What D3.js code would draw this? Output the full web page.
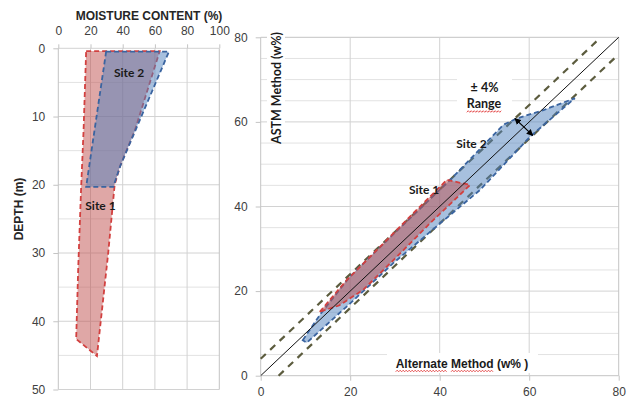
<!DOCTYPE html>
<html>
<head>
<meta charset="utf-8">
<script src="https://cdn.jsdelivr.net/npm/d3@7"></script>
<style>
  body { margin: 0; background: #fff; }
  svg { display: block; }
</style>
</head>
<body>
<svg id="chart" width="632" height="400"></svg>
<script>
// ---- axis ticks ----
const moistureTicks = [0, 20, 40, 60, 80, 100];
const depthTicks = [0, 10, 20, 30, 40, 50];
const depthGrid = [0, 5, 10, 15, 20, 25, 30, 35, 40, 45, 50];
const methodTicks = [0, 20, 40, 60, 80];
const methodGrid = [0, 5, 10, 15, 20, 25, 30, 35, 40, 45, 50, 55, 60, 65, 70, 75, 80];

// ---- moisture profile envelopes: [moisture %, depth m] ----
const site1Profile = [
  [17.3, 0.4], [63, 0.4], [47.6, 12], [38.3, 17.3], [35, 20], [31, 30], [24, 45.1],
  [11.1, 42.6], [12.4, 32], [14.2, 20.3], [15.7, 12]
];
const site2Profile = [
  [29.7, 0.5], [68.7, 0.5], [38.4, 17.3], [34.2, 20.3], [17.3, 20.3]
];

// ---- method comparison envelopes: [alternate w%, ASTM w%] ----
const site1Compare = [
  [13.2, 15.1], [19.2, 22.6], [26.7, 30.5], [34.1, 38.4], [41.6, 46.3], [46.8, 45.1],
  [37.8, 36], [30.4, 28.1], [22.9, 20.3], [17.5, 16.6]
];
const site2Compare = [
  [9.4, 8.4], [13.5, 14.8], [20, 23.5], [30, 33.8], [43, 47], [54.2, 59.3], [57.2, 60.8],
  [63.2, 62.8], [70.2, 65.6], [60.2, 56.5], [49, 43.9], [40.1, 36], [29.6, 26.6],
  [20, 17.1], [10.3, 7.8]
];

// tolerance band around the 1:1 line (w%)
const rangeBand = 4;
const methodMax = 80;
const arrowAt = 58.8;

// ---- styling ----
const RED = "#C0504D", RED_LINE = "#d2403f";
const BLUE = "#4F81BD", BLUE_LINE = "#3a64a0";
const OLIVE = "#5c5c3e";
const GRID_MAJOR = "#d2d2d2", GRID_MINOR = "#e2e2e2", FRAME = "#c4c4c4";
const TICK_TEXT = "#404040";

const svg = d3.select("#chart");

// ================= left panel: moisture vs depth =================
const xM = d3.scaleLinear([0, 100], [58.3, 219.3]);
const yD = d3.scaleLinear([0, 50], [48.3, 389.5]);
const left = svg.append("g");

left.selectAll("line.hgrid").data(depthGrid).join("line")
  .attr("x1", xM(0)).attr("x2", xM(100))
  .attr("y1", d => yD(d)).attr("y2", d => yD(d))
  .attr("stroke", d => d % 10 === 0 ? GRID_MAJOR : GRID_MINOR).attr("stroke-width", 1);
left.selectAll("line.vgrid").data(moistureTicks).join("line")
  .attr("x1", d => xM(d)).attr("x2", d => xM(d))
  .attr("y1", yD(0)).attr("y2", yD(50))
  .attr("stroke", d => d === 0 || d === 100 ? FRAME : GRID_MAJOR).attr("stroke-width", 1);

const profileLine = d3.line().x(d => xM(d[0])).y(d => yD(d[1]));
left.append("path").attr("d", profileLine(site1Profile) + "Z")
  .attr("fill", RED).attr("fill-opacity", 0.5)
  .attr("stroke", RED_LINE).attr("stroke-width", 1.8).attr("stroke-dasharray", "5,3");
left.append("path").attr("d", profileLine(site2Profile) + "Z")
  .attr("fill", BLUE).attr("fill-opacity", 0.5)
  .attr("stroke", BLUE_LINE).attr("stroke-width", 1.8).attr("stroke-dasharray", "5,3");

const topAxis = left.append("g").attr("transform", `translate(0,${yD(0)})`)
  .call(d3.axisTop(xM).tickValues(moistureTicks).tickSize(4).tickPadding(9));
const leftAxis = left.append("g").attr("transform", `translate(${xM(0)},0)`)
  .call(d3.axisLeft(yD).tickValues(depthTicks).tickSize(5).tickPadding(8));

left.append("text").text("MOISTURE CONTENT (%)")
  .attr("x", 149).attr("y", 20).attr("text-anchor", "middle")
  .attr("font-family", "Liberation Sans, Arial, sans-serif").attr("font-weight", "bold")
  .attr("font-size", 12).attr("fill", "#262626");
left.append("text").text("DEPTH (m)")
  .attr("transform", "translate(22.5,209) rotate(-90)").attr("text-anchor", "middle")
  .attr("font-family", "Liberation Sans, Arial, sans-serif").attr("font-weight", "bold")
  .attr("font-size", 12).attr("fill", "#262626");

const siteFont = "Lato, 'Open Sans', sans-serif";
left.append("text").text("Site 2").attr("x", xM(44)).attr("y", yD(4.2))
  .attr("text-anchor", "middle").attr("font-family", siteFont).attr("font-weight", "bold")
  .attr("font-size", 12).attr("fill", "#1a1a1a");
left.append("text").text("Site 1").attr("x", xM(26.2)).attr("y", yD(23.7))
  .attr("text-anchor", "middle").attr("font-family", siteFont).attr("font-weight", "bold")
  .attr("font-size", 12).attr("fill", "#1a1a1a");

// ================= right panel: ASTM vs alternate method =================
const xA = d3.scaleLinear([0, methodMax], [260.7, 618.7]);
const yA = d3.scaleLinear([0, methodMax], [375.7, 37.3]);
const right = svg.append("g");

right.selectAll("line.hgrid").data(methodGrid).join("line")
  .attr("x1", xA(0)).attr("x2", xA(methodMax))
  .attr("y1", d => yA(d)).attr("y2", d => yA(d))
  .attr("stroke", d => (d === 0 || d === methodMax) ? FRAME : (d % 20 === 0 ? GRID_MAJOR : GRID_MINOR))
  .attr("stroke-width", 1);
right.selectAll("line.vgrid").data(methodTicks).join("line")
  .attr("x1", d => xA(d)).attr("x2", d => xA(d))
  .attr("y1", yA(0)).attr("y2", yA(methodMax))
  .attr("stroke", d => (d === 0 || d === methodMax) ? FRAME : GRID_MAJOR).attr("stroke-width", 1);

const cmpLine = d3.line().x(d => xA(d[0])).y(d => yA(d[1]));

// tolerance lines and 1:1 line
right.append("path").attr("d", cmpLine([[0, rangeBand], [methodMax - rangeBand, methodMax]]))
  .attr("stroke", OLIVE).attr("stroke-width", 2.2).attr("stroke-dasharray", "7,6").attr("fill", "none");
right.append("path").attr("d", cmpLine([[rangeBand, 0], [methodMax, methodMax - rangeBand]]))
  .attr("stroke", OLIVE).attr("stroke-width", 2.2).attr("stroke-dasharray", "7,6").attr("fill", "none");

right.append("path").attr("d", cmpLine(site2Compare) + "Z")
  .attr("fill", BLUE).attr("fill-opacity", 0.5)
  .attr("stroke", BLUE_LINE).attr("stroke-width", 1.8).attr("stroke-dasharray", "5,3");
right.append("path").attr("d", cmpLine(site1Compare) + "Z")
  .attr("fill", RED).attr("fill-opacity", 0.5)
  .attr("stroke", RED_LINE).attr("stroke-width", 1.8).attr("stroke-dasharray", "5,3");

right.append("path").attr("d", cmpLine([[0, 0], [methodMax, methodMax]]))
  .attr("stroke", "#111").attr("stroke-width", 1).attr("fill", "none");

// double-headed arrow across the tolerance band
const defs = svg.append("defs");
["arrowStart", "arrowEnd"].forEach((id, i) => {
  defs.append("marker").attr("id", id).attr("viewBox", "0 0 10 10")
    .attr("refX", i === 0 ? 1 : 9).attr("refY", 5)
    .attr("markerWidth", 6).attr("markerHeight", 6).attr("orient", "auto")
    .append("path").attr("d", i === 0 ? "M10,0 L0,5 L10,10 Z" : "M0,0 L10,5 L0,10 Z").attr("fill", "#000");
});
right.append("path")
  .attr("d", cmpLine([[arrowAt - rangeBand / 2, arrowAt + rangeBand / 2], [arrowAt + rangeBand / 2, arrowAt - rangeBand / 2]]))
  .attr("stroke", "#000").attr("stroke-width", 1.1)
  .attr("marker-start", "url(#arrowStart)").attr("marker-end", "url(#arrowEnd)");

const bottomAxis = right.append("g").attr("transform", `translate(0,${yA(0)})`)
  .call(d3.axisBottom(xA).tickValues(methodTicks).tickSize(5).tickPadding(7));
const rightAxis = right.append("g").attr("transform", `translate(${xA(0)},0)`)
  .call(d3.axisLeft(yA).tickValues(methodTicks).tickSize(5).tickPadding(8));

[topAxis, leftAxis, bottomAxis, rightAxis].forEach(ax => {
  ax.select(".domain").remove();
  ax.selectAll(".tick line").attr("stroke", FRAME);
  ax.selectAll(".tick text").attr("font-family", "Liberation Sans, Arial, sans-serif")
    .attr("font-size", 12).attr("fill", TICK_TEXT);
});

// red wavy underline as seen under unrecognised words
function squiggle(g, x0, x1, y) {
  const pts = [];
  for (let x = x0, k = 0; x <= x1; x += 1.5, k++) pts.push([x, y + (k % 2 ? -0.8 : 0.8)]);
  g.append("path").attr("d", d3.line()(pts)).attr("stroke", "#e03030")
    .attr("stroke-width", 0.8).attr("fill", "none");
}

// axis title boxes
const astm = right.append("g");
astm.append("rect").attr("x", 267).attr("y", 36).attr("width", 18).attr("height", 104).attr("fill", "#fff");
astm.append("text").text("ASTM Method (w%)")
  .attr("transform", "translate(280.5,88) rotate(-90)").attr("text-anchor", "middle")
  .attr("font-family", siteFont).attr("font-weight", "bold").attr("font-size", 12.5).attr("fill", "#1a1a1a");

const alt = right.append("g");
alt.append("rect").attr("x", 387).attr("y", 353).attr("width", 151).attr("height", 20).attr("fill", "#fff");
const altText = alt.append("text").text("Alternate Method (w% )")
  .attr("x", 462).attr("y", 367.5).attr("text-anchor", "middle")
  .attr("font-family", "Liberation Sans, Arial, sans-serif").attr("font-weight", "bold")
  .attr("font-size", 12).attr("fill", "#1a1a1a");
{
  const node = altText.node();
  const total = node.getComputedTextLength();
  const start = 462 - total / 2;
  const w1 = node.getSubStringLength(0, 9);
  const s2 = node.getSubStringLength(0, 10);
  const w2 = node.getSubStringLength(10, 6);
  squiggle(alt, start, start + w1, 371);
  squiggle(alt, start + s2, start + s2 + w2, 371);
}

const band = right.append("g");
band.append("rect").attr("x", 457).attr("y", 77).attr("width", 55).attr("height", 36).attr("fill", "#fff");
band.append("text").text("± " + rangeBand + "%").attr("x", 484.5).attr("y", 92)
  .attr("text-anchor", "middle").attr("font-family", siteFont).attr("font-weight", "bold")
  .attr("font-size", 12.5).attr("fill", "#1a1a1a");
const rangeText = band.append("text").text("Range").attr("x", 484).attr("y", 108)
  .attr("text-anchor", "middle").attr("font-family", siteFont).attr("font-weight", "bold")
  .attr("font-size", 12.5).attr("fill", "#1a1a1a");
{
  const w = rangeText.node().getComputedTextLength();
  squiggle(band, 484 - w / 2, 484 + w / 2, 111.5);
}

right.append("text").text("Site 2").attr("x", xA(47.1)).attr("y", yA(53.8))
  .attr("text-anchor", "middle").attr("font-family", siteFont).attr("font-weight", "bold")
  .attr("font-size", 12).attr("fill", "#1a1a1a");
right.append("text").text("Site 1").attr("x", xA(36.5)).attr("y", yA(43))
  .attr("text-anchor", "middle").attr("font-family", siteFont).attr("font-weight", "bold")
  .attr("font-size", 12).attr("fill", "#1a1a1a");
</script>
</body>
</html>
